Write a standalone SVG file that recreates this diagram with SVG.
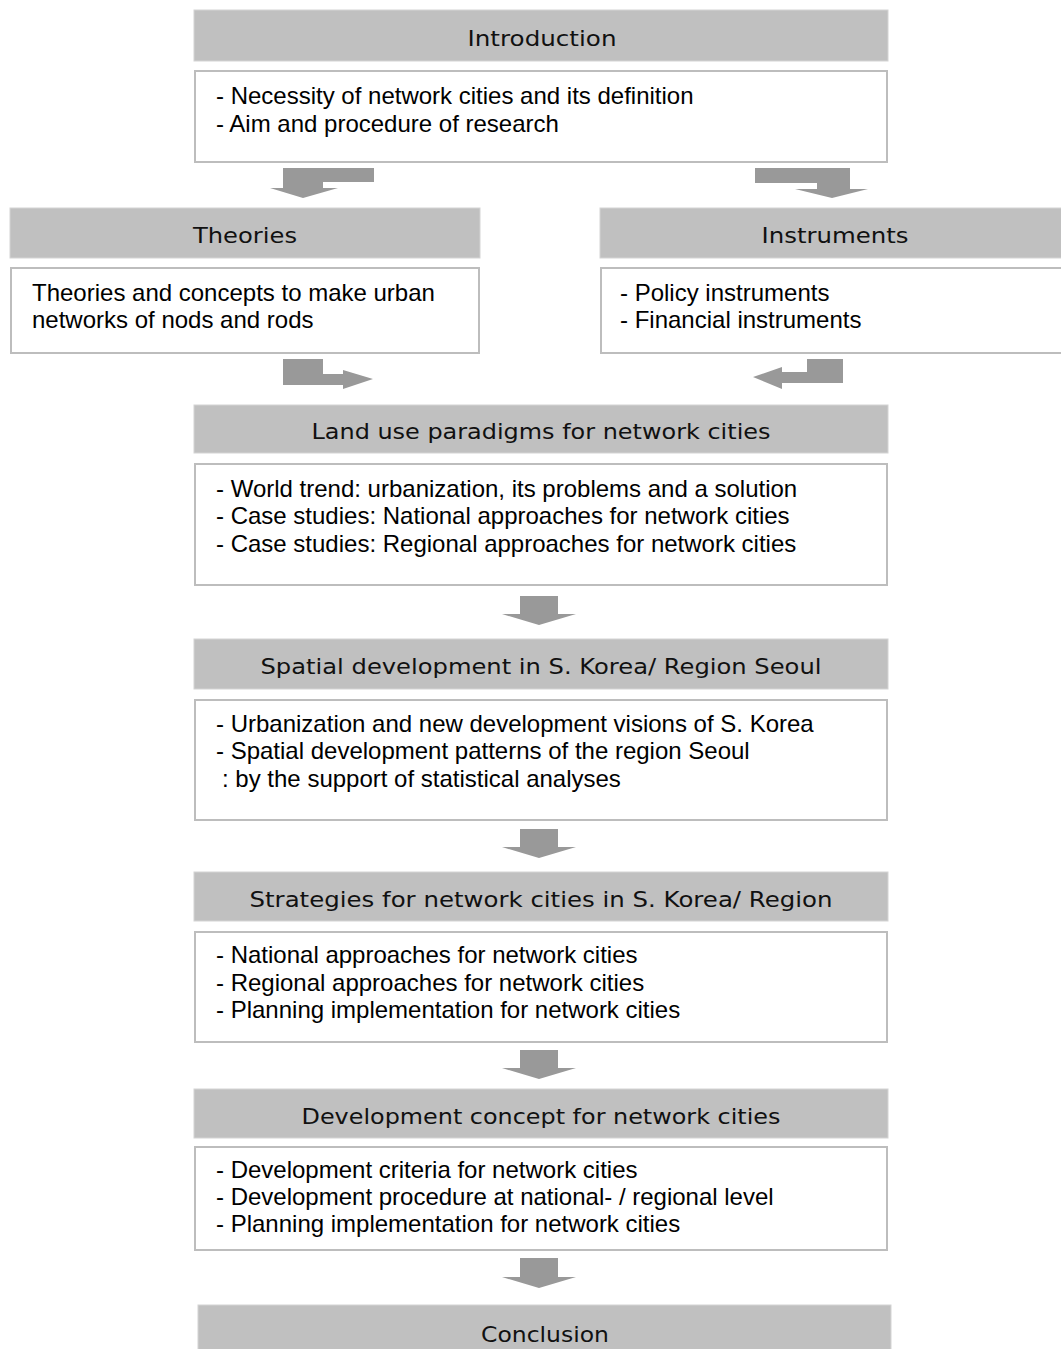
<svg xmlns="http://www.w3.org/2000/svg" width="1061" height="1349" viewBox="0 0 1061 1349">
<style>
.hd{fill:#c0c0c0;stroke:#d4d4d4;stroke-width:1}
.bx{fill:#ffffff;stroke:#bdbdbd;stroke-width:2}
.ht{font-family:"DejaVu Sans","Liberation Sans",sans-serif;font-size:21px;fill:#111;text-anchor:middle}
.bt{font-family:"Liberation Sans",Arial,sans-serif;font-size:24px;fill:#000}
.ar{fill:#999999}
</style>
<rect width="1061" height="1349" fill="#ffffff"/>
<g id="introduction">
<rect class="hd" x="194" y="10" width="694" height="51"/>
<text class="ht" x="542" y="46" textLength="149" lengthAdjust="spacingAndGlyphs">Introduction</text>
<rect class="bx" x="195" y="71" width="692" height="91"/>
<text class="bt" x="216" y="104">- Necessity of network cities and its definition</text>
<text class="bt" x="216" y="132">- Aim and procedure of research</text>
</g>
<g id="theories">
<rect class="hd" x="10" y="208" width="470" height="50"/>
<text class="ht" x="245" y="243" textLength="104" lengthAdjust="spacingAndGlyphs">Theories</text>
<rect class="bx" x="11" y="268" width="468" height="85"/>
<text class="bt" x="32" y="301">Theories and concepts to make urban</text>
<text class="bt" x="32" y="328">networks of nods and rods</text>
</g>
<g id="instruments">
<rect class="hd" x="600" y="208" width="470" height="50"/>
<text class="ht" x="835" y="243" textLength="147" lengthAdjust="spacingAndGlyphs">Instruments</text>
<rect class="bx" x="601" y="268" width="470" height="85"/>
<text class="bt" x="620" y="301">- Policy instruments</text>
<text class="bt" x="620" y="328">- Financial instruments</text>
</g>
<g id="landuse">
<rect class="hd" x="194" y="405" width="694" height="48"/>
<text class="ht" x="541" y="439" textLength="459" lengthAdjust="spacingAndGlyphs">Land use paradigms for network cities</text>
<rect class="bx" x="195" y="464" width="692" height="121"/>
<text class="bt" x="216" y="497">- World trend: urbanization, its problems and a solution</text>
<text class="bt" x="216" y="524">- Case studies: National approaches for network cities</text>
<text class="bt" x="216" y="552">- Case studies: Regional approaches for network cities</text>
</g>
<g id="spatial">
<rect class="hd" x="194" y="639" width="694" height="50"/>
<text class="ht" x="541" y="674" textLength="561" lengthAdjust="spacingAndGlyphs">Spatial development in S. Korea/ Region Seoul</text>
<rect class="bx" x="195" y="700" width="692" height="120"/>
<text class="bt" x="216" y="732">- Urbanization and new development visions of S. Korea</text>
<text class="bt" x="216" y="759">- Spatial development patterns of the region Seoul</text>
<text class="bt" x="222" y="787">: by the support of statistical analyses</text>
</g>
<g id="strategies">
<rect class="hd" x="194" y="872" width="694" height="49"/>
<text class="ht" x="541" y="907" textLength="583" lengthAdjust="spacingAndGlyphs">Strategies for network cities in S. Korea/ Region</text>
<rect class="bx" x="195" y="932" width="692" height="110"/>
<text class="bt" x="216" y="963">- National approaches for network cities</text>
<text class="bt" x="216" y="991">- Regional approaches for network cities</text>
<text class="bt" x="216" y="1018">- Planning implementation for network cities</text>
</g>
<g id="development">
<rect class="hd" x="194" y="1089" width="694" height="49"/>
<text class="ht" x="541" y="1124" textLength="479" lengthAdjust="spacingAndGlyphs">Development concept for network cities</text>
<rect class="bx" x="195" y="1147" width="692" height="103"/>
<text class="bt" x="216" y="1178">- Development criteria for network cities</text>
<text class="bt" x="216" y="1205">- Development procedure at national- / regional level</text>
<text class="bt" x="216" y="1232">- Planning implementation for network cities</text>
</g>
<g id="conclusion">
<rect class="hd" x="198" y="1305" width="693" height="50"/>
<text class="ht" x="545" y="1342" textLength="128" lengthAdjust="spacingAndGlyphs">Conclusion</text>
</g>
<g id="connectors">
<path class="ar" d="M283,168 H374 V182 H323 V188 H338 L303,198 L270,188 H283 Z"/>
<path class="ar" d="M755,168 H850 V189 H868 L832,198 L795,189 H817 V183 H755 Z"/>
<path class="ar" d="M283,359 H323 V374 H343 V370 L373,379 L343,389 V385 H283 Z"/>
<path class="ar" d="M843,359 V383 H782 V389 L753,377 L782,367 V372 H807 V359 Z"/>
<path class="ar" d="M520,596 H558 V614 H576 L539,625 L502,614 H520 Z"/>
<path class="ar" d="M520,829 H558 V847 H576 L539,858 L502,847 H520 Z"/>
<path class="ar" d="M520,1050 H558 V1068 H576 L539,1079 L502,1068 H520 Z"/>
<path class="ar" d="M520,1258 H558 V1277 H576 L539,1288 L502,1277 H520 Z"/>
</g>
</svg>
